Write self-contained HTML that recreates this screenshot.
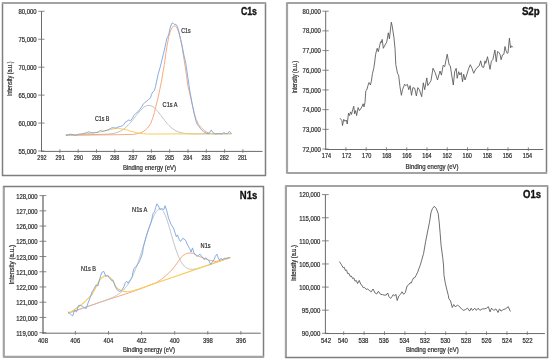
<!DOCTYPE html>
<html><head><meta charset="utf-8"><style>
html,body{margin:0;padding:0;background:#fff;width:550px;height:360px;overflow:hidden}
svg{display:block}
text{font-family:"Liberation Sans",sans-serif}
</style></head><body>
<svg width="550" height="360" viewBox="0 0 550 360">
<defs><filter id="bl" filterUnits="userSpaceOnUse" x="0" y="0" width="550" height="360"><feOffset dx="0" dy="0"/></filter></defs>
<rect width="550" height="360" fill="#fff"/>
<g filter="url(#bl)">
<line x1="2.5" y1="2.5" x2="2.5" y2="176.0" stroke="#7e7e7e" stroke-width="1.5"/>
<line x1="265.5" y1="2.5" x2="265.5" y2="176.0" stroke="#7e7e7e" stroke-width="1.5"/>
<line x1="2.0" y1="3.0" x2="266.0" y2="3.0" stroke="#a3a3a3" stroke-width="2.2"/>
<line x1="2.0" y1="175.5" x2="266.0" y2="175.5" stroke="#7e7e7e" stroke-width="1.5"/>
<line x1="41.5" y1="11.3" x2="41.5" y2="151.9" stroke="#6b6b6b" stroke-width="1.0"/>
<line x1="41.0" y1="151.4" x2="262.5" y2="151.4" stroke="#6b6b6b" stroke-width="1.0"/>
<line x1="38.2" y1="11.3" x2="44.5" y2="11.3" stroke="#6b6b6b" stroke-width="0.8"/>
<text x="36.6" y="13.9" font-size="6.4" text-anchor="end" font-weight="normal" fill="#2a2a2a" stroke="#2a2a2a" stroke-width="0.2" textLength="18.2" lengthAdjust="spacingAndGlyphs">80,000</text>
<line x1="38.2" y1="39.24" x2="44.5" y2="39.24" stroke="#6b6b6b" stroke-width="0.8"/>
<text x="36.6" y="41.84" font-size="6.4" text-anchor="end" font-weight="normal" fill="#2a2a2a" stroke="#2a2a2a" stroke-width="0.2" textLength="18.2" lengthAdjust="spacingAndGlyphs">75,000</text>
<line x1="38.2" y1="67.18" x2="44.5" y2="67.18" stroke="#6b6b6b" stroke-width="0.8"/>
<text x="36.6" y="69.78" font-size="6.4" text-anchor="end" font-weight="normal" fill="#2a2a2a" stroke="#2a2a2a" stroke-width="0.2" textLength="18.2" lengthAdjust="spacingAndGlyphs">70,000</text>
<line x1="38.2" y1="95.12" x2="44.5" y2="95.12" stroke="#6b6b6b" stroke-width="0.8"/>
<text x="36.6" y="97.72" font-size="6.4" text-anchor="end" font-weight="normal" fill="#2a2a2a" stroke="#2a2a2a" stroke-width="0.2" textLength="18.2" lengthAdjust="spacingAndGlyphs">65,000</text>
<line x1="38.2" y1="123.06" x2="44.5" y2="123.06" stroke="#6b6b6b" stroke-width="0.8"/>
<text x="36.6" y="125.66" font-size="6.4" text-anchor="end" font-weight="normal" fill="#2a2a2a" stroke="#2a2a2a" stroke-width="0.2" textLength="18.2" lengthAdjust="spacingAndGlyphs">60,000</text>
<line x1="38.2" y1="151.00000000000003" x2="44.5" y2="151.00000000000003" stroke="#6b6b6b" stroke-width="0.8"/>
<text x="36.6" y="153.60000000000002" font-size="6.4" text-anchor="end" font-weight="normal" fill="#2a2a2a" stroke="#2a2a2a" stroke-width="0.2" textLength="18.2" lengthAdjust="spacingAndGlyphs">55,000</text>
<text x="41.9" y="160.3" font-size="6.4" text-anchor="middle" font-weight="normal" fill="#2a2a2a" stroke="#2a2a2a" stroke-width="0.2" textLength="9.1" lengthAdjust="spacingAndGlyphs">292</text>
<line x1="59.900000000000006" y1="149.20000000000002" x2="59.900000000000006" y2="152.8" stroke="#6b6b6b" stroke-width="0.8"/>
<text x="60.14" y="160.3" font-size="6.4" text-anchor="middle" font-weight="normal" fill="#2a2a2a" stroke="#2a2a2a" stroke-width="0.2" textLength="9.1" lengthAdjust="spacingAndGlyphs">291</text>
<line x1="78.2" y1="149.20000000000002" x2="78.2" y2="152.8" stroke="#6b6b6b" stroke-width="0.8"/>
<text x="78.38" y="160.3" font-size="6.4" text-anchor="middle" font-weight="normal" fill="#2a2a2a" stroke="#2a2a2a" stroke-width="0.2" textLength="9.1" lengthAdjust="spacingAndGlyphs">290</text>
<line x1="96.5" y1="149.20000000000002" x2="96.5" y2="152.8" stroke="#6b6b6b" stroke-width="0.8"/>
<text x="96.62" y="160.3" font-size="6.4" text-anchor="middle" font-weight="normal" fill="#2a2a2a" stroke="#2a2a2a" stroke-width="0.2" textLength="9.1" lengthAdjust="spacingAndGlyphs">289</text>
<line x1="114.80000000000001" y1="149.20000000000002" x2="114.80000000000001" y2="152.8" stroke="#6b6b6b" stroke-width="0.8"/>
<text x="114.85999999999999" y="160.3" font-size="6.4" text-anchor="middle" font-weight="normal" fill="#2a2a2a" stroke="#2a2a2a" stroke-width="0.2" textLength="9.1" lengthAdjust="spacingAndGlyphs">288</text>
<line x1="133.1" y1="149.20000000000002" x2="133.1" y2="152.8" stroke="#6b6b6b" stroke-width="0.8"/>
<text x="133.1" y="160.3" font-size="6.4" text-anchor="middle" font-weight="normal" fill="#2a2a2a" stroke="#2a2a2a" stroke-width="0.2" textLength="9.1" lengthAdjust="spacingAndGlyphs">287</text>
<line x1="151.4" y1="149.20000000000002" x2="151.4" y2="152.8" stroke="#6b6b6b" stroke-width="0.8"/>
<text x="151.34" y="160.3" font-size="6.4" text-anchor="middle" font-weight="normal" fill="#2a2a2a" stroke="#2a2a2a" stroke-width="0.2" textLength="9.1" lengthAdjust="spacingAndGlyphs">286</text>
<line x1="169.7" y1="149.20000000000002" x2="169.7" y2="152.8" stroke="#6b6b6b" stroke-width="0.8"/>
<text x="169.57999999999998" y="160.3" font-size="6.4" text-anchor="middle" font-weight="normal" fill="#2a2a2a" stroke="#2a2a2a" stroke-width="0.2" textLength="9.1" lengthAdjust="spacingAndGlyphs">285</text>
<line x1="188.0" y1="149.20000000000002" x2="188.0" y2="152.8" stroke="#6b6b6b" stroke-width="0.8"/>
<text x="187.82" y="160.3" font-size="6.4" text-anchor="middle" font-weight="normal" fill="#2a2a2a" stroke="#2a2a2a" stroke-width="0.2" textLength="9.1" lengthAdjust="spacingAndGlyphs">284</text>
<line x1="206.3" y1="149.20000000000002" x2="206.3" y2="152.8" stroke="#6b6b6b" stroke-width="0.8"/>
<text x="206.06" y="160.3" font-size="6.4" text-anchor="middle" font-weight="normal" fill="#2a2a2a" stroke="#2a2a2a" stroke-width="0.2" textLength="9.1" lengthAdjust="spacingAndGlyphs">283</text>
<line x1="224.6" y1="149.20000000000002" x2="224.6" y2="152.8" stroke="#6b6b6b" stroke-width="0.8"/>
<text x="224.29999999999998" y="160.3" font-size="6.4" text-anchor="middle" font-weight="normal" fill="#2a2a2a" stroke="#2a2a2a" stroke-width="0.2" textLength="9.1" lengthAdjust="spacingAndGlyphs">282</text>
<line x1="242.9" y1="149.20000000000002" x2="242.9" y2="152.8" stroke="#6b6b6b" stroke-width="0.8"/>
<text x="242.54" y="160.3" font-size="6.4" text-anchor="middle" font-weight="normal" fill="#2a2a2a" stroke="#2a2a2a" stroke-width="0.2" textLength="9.1" lengthAdjust="spacingAndGlyphs">281</text>
<text x="149.5" y="169.8" font-size="6.4" text-anchor="middle" font-weight="normal" fill="#2a2a2a" stroke="#2a2a2a" stroke-width="0.2" textLength="53.19999999999999" lengthAdjust="spacingAndGlyphs">Binding energy (eV)</text>
<text x="12.0" y="78.9" font-size="6.4" text-anchor="middle" font-weight="normal" fill="#2a2a2a" stroke="#2a2a2a" stroke-width="0.2" textLength="34.8" lengthAdjust="spacingAndGlyphs" transform="rotate(-90 12.0 78.9)">Intensity (a.u.)</text>
<text x="240.9" y="15.3" font-size="10.5" text-anchor="start" font-weight="bold" fill="#111" stroke="#111" stroke-width="0.35" textLength="16.099999999999994" lengthAdjust="spacingAndGlyphs">C1s</text>
<line x1="287.0" y1="2.5" x2="287.0" y2="173.5" stroke="#a3a3a3" stroke-width="2.2"/>
<line x1="546.5" y1="2.5" x2="546.5" y2="173.5" stroke="#7e7e7e" stroke-width="1.5"/>
<line x1="286.5" y1="3.0" x2="547.0" y2="3.0" stroke="#a3a3a3" stroke-width="2.2"/>
<line x1="286.5" y1="173.0" x2="547.0" y2="173.0" stroke="#a3a3a3" stroke-width="2.2"/>
<line x1="325.7" y1="11.2" x2="325.7" y2="150.0" stroke="#6b6b6b" stroke-width="1.0"/>
<line x1="325.2" y1="149.5" x2="543.3" y2="149.5" stroke="#6b6b6b" stroke-width="1.0"/>
<line x1="322.4" y1="11.2" x2="328.7" y2="11.2" stroke="#6b6b6b" stroke-width="0.8"/>
<text x="320.8" y="13.799999999999999" font-size="6.4" text-anchor="end" font-weight="normal" fill="#2a2a2a" stroke="#2a2a2a" stroke-width="0.2" textLength="18.2" lengthAdjust="spacingAndGlyphs">80,000</text>
<line x1="322.4" y1="30.89" x2="328.7" y2="30.89" stroke="#6b6b6b" stroke-width="0.8"/>
<text x="320.8" y="33.49" font-size="6.4" text-anchor="end" font-weight="normal" fill="#2a2a2a" stroke="#2a2a2a" stroke-width="0.2" textLength="18.2" lengthAdjust="spacingAndGlyphs">78,000</text>
<line x1="322.4" y1="50.58" x2="328.7" y2="50.58" stroke="#6b6b6b" stroke-width="0.8"/>
<text x="320.8" y="53.18" font-size="6.4" text-anchor="end" font-weight="normal" fill="#2a2a2a" stroke="#2a2a2a" stroke-width="0.2" textLength="18.2" lengthAdjust="spacingAndGlyphs">77,000</text>
<line x1="322.4" y1="70.27000000000001" x2="328.7" y2="70.27000000000001" stroke="#6b6b6b" stroke-width="0.8"/>
<text x="320.8" y="72.87" font-size="6.4" text-anchor="end" font-weight="normal" fill="#2a2a2a" stroke="#2a2a2a" stroke-width="0.2" textLength="18.2" lengthAdjust="spacingAndGlyphs">76,000</text>
<line x1="322.4" y1="89.96000000000001" x2="328.7" y2="89.96000000000001" stroke="#6b6b6b" stroke-width="0.8"/>
<text x="320.8" y="92.56" font-size="6.4" text-anchor="end" font-weight="normal" fill="#2a2a2a" stroke="#2a2a2a" stroke-width="0.2" textLength="18.2" lengthAdjust="spacingAndGlyphs">75,000</text>
<line x1="322.4" y1="109.65" x2="328.7" y2="109.65" stroke="#6b6b6b" stroke-width="0.8"/>
<text x="320.8" y="112.25" font-size="6.4" text-anchor="end" font-weight="normal" fill="#2a2a2a" stroke="#2a2a2a" stroke-width="0.2" textLength="18.2" lengthAdjust="spacingAndGlyphs">74,000</text>
<line x1="322.4" y1="129.34" x2="328.7" y2="129.34" stroke="#6b6b6b" stroke-width="0.8"/>
<text x="320.8" y="131.94" font-size="6.4" text-anchor="end" font-weight="normal" fill="#2a2a2a" stroke="#2a2a2a" stroke-width="0.2" textLength="18.2" lengthAdjust="spacingAndGlyphs">73,000</text>
<line x1="322.4" y1="149.03" x2="328.7" y2="149.03" stroke="#6b6b6b" stroke-width="0.8"/>
<text x="320.8" y="151.63" font-size="6.4" text-anchor="end" font-weight="normal" fill="#2a2a2a" stroke="#2a2a2a" stroke-width="0.2" textLength="18.2" lengthAdjust="spacingAndGlyphs">72,000</text>
<text x="326.5" y="158.4" font-size="6.4" text-anchor="middle" font-weight="normal" fill="#2a2a2a" stroke="#2a2a2a" stroke-width="0.2" textLength="9.3" lengthAdjust="spacingAndGlyphs">174</text>
<line x1="345.9" y1="147.3" x2="345.9" y2="150.9" stroke="#6b6b6b" stroke-width="0.8"/>
<text x="346.6" y="158.4" font-size="6.4" text-anchor="middle" font-weight="normal" fill="#2a2a2a" stroke="#2a2a2a" stroke-width="0.2" textLength="9.3" lengthAdjust="spacingAndGlyphs">172</text>
<line x1="366.17" y1="147.3" x2="366.17" y2="150.9" stroke="#6b6b6b" stroke-width="0.8"/>
<text x="366.7" y="158.4" font-size="6.4" text-anchor="middle" font-weight="normal" fill="#2a2a2a" stroke="#2a2a2a" stroke-width="0.2" textLength="9.3" lengthAdjust="spacingAndGlyphs">170</text>
<line x1="386.44" y1="147.3" x2="386.44" y2="150.9" stroke="#6b6b6b" stroke-width="0.8"/>
<text x="386.8" y="158.4" font-size="6.4" text-anchor="middle" font-weight="normal" fill="#2a2a2a" stroke="#2a2a2a" stroke-width="0.2" textLength="9.3" lengthAdjust="spacingAndGlyphs">168</text>
<line x1="406.71" y1="147.3" x2="406.71" y2="150.9" stroke="#6b6b6b" stroke-width="0.8"/>
<text x="406.9" y="158.4" font-size="6.4" text-anchor="middle" font-weight="normal" fill="#2a2a2a" stroke="#2a2a2a" stroke-width="0.2" textLength="9.3" lengthAdjust="spacingAndGlyphs">166</text>
<line x1="426.98" y1="147.3" x2="426.98" y2="150.9" stroke="#6b6b6b" stroke-width="0.8"/>
<text x="427.0" y="158.4" font-size="6.4" text-anchor="middle" font-weight="normal" fill="#2a2a2a" stroke="#2a2a2a" stroke-width="0.2" textLength="9.3" lengthAdjust="spacingAndGlyphs">164</text>
<line x1="447.25" y1="147.3" x2="447.25" y2="150.9" stroke="#6b6b6b" stroke-width="0.8"/>
<text x="447.1" y="158.4" font-size="6.4" text-anchor="middle" font-weight="normal" fill="#2a2a2a" stroke="#2a2a2a" stroke-width="0.2" textLength="9.3" lengthAdjust="spacingAndGlyphs">162</text>
<line x1="467.52" y1="147.3" x2="467.52" y2="150.9" stroke="#6b6b6b" stroke-width="0.8"/>
<text x="467.20000000000005" y="158.4" font-size="6.4" text-anchor="middle" font-weight="normal" fill="#2a2a2a" stroke="#2a2a2a" stroke-width="0.2" textLength="9.3" lengthAdjust="spacingAndGlyphs">160</text>
<line x1="487.78999999999996" y1="147.3" x2="487.78999999999996" y2="150.9" stroke="#6b6b6b" stroke-width="0.8"/>
<text x="487.3" y="158.4" font-size="6.4" text-anchor="middle" font-weight="normal" fill="#2a2a2a" stroke="#2a2a2a" stroke-width="0.2" textLength="9.3" lengthAdjust="spacingAndGlyphs">158</text>
<line x1="508.06" y1="147.3" x2="508.06" y2="150.9" stroke="#6b6b6b" stroke-width="0.8"/>
<text x="507.4" y="158.4" font-size="6.4" text-anchor="middle" font-weight="normal" fill="#2a2a2a" stroke="#2a2a2a" stroke-width="0.2" textLength="9.3" lengthAdjust="spacingAndGlyphs">156</text>
<line x1="528.3299999999999" y1="147.3" x2="528.3299999999999" y2="150.9" stroke="#6b6b6b" stroke-width="0.8"/>
<text x="527.5" y="158.4" font-size="6.4" text-anchor="middle" font-weight="normal" fill="#2a2a2a" stroke="#2a2a2a" stroke-width="0.2" textLength="9.3" lengthAdjust="spacingAndGlyphs">154</text>
<text x="432.1" y="168.5" font-size="6.4" text-anchor="middle" font-weight="normal" fill="#2a2a2a" stroke="#2a2a2a" stroke-width="0.2" textLength="53.0" lengthAdjust="spacingAndGlyphs">Binding energy (eV)</text>
<text x="297.0" y="77.25" font-size="6.4" text-anchor="middle" font-weight="normal" fill="#2a2a2a" stroke="#2a2a2a" stroke-width="0.2" textLength="32.5" lengthAdjust="spacingAndGlyphs" transform="rotate(-90 297.0 77.25)">Intensity (a.u.)</text>
<text x="521.9" y="14.9" font-size="10.5" text-anchor="start" font-weight="bold" fill="#111" stroke="#111" stroke-width="0.35" textLength="17.800000000000068" lengthAdjust="spacingAndGlyphs">S2p</text>
<line x1="3.8" y1="186.0" x2="3.8" y2="357.4" stroke="#a3a3a3" stroke-width="2.2"/>
<line x1="263.5" y1="186.0" x2="263.5" y2="357.4" stroke="#7e7e7e" stroke-width="1.5"/>
<line x1="3.3" y1="186.5" x2="264.0" y2="186.5" stroke="#7e7e7e" stroke-width="1.5"/>
<line x1="3.3" y1="356.9" x2="264.0" y2="356.9" stroke="#a3a3a3" stroke-width="2.2"/>
<line x1="43.0" y1="195.6" x2="43.0" y2="333.7" stroke="#6b6b6b" stroke-width="1.3"/>
<line x1="42.5" y1="333.2" x2="260.8" y2="333.2" stroke="#6b6b6b" stroke-width="1.0"/>
<line x1="39.5" y1="195.6" x2="46.3" y2="195.6" stroke="#6b6b6b" stroke-width="0.8"/>
<text x="37.6" y="198.79999999999998" font-size="6.8" text-anchor="end" font-weight="normal" fill="#2a2a2a" stroke="#2a2a2a" stroke-width="0.2" textLength="21.4" lengthAdjust="spacingAndGlyphs">128,000</text>
<line x1="39.5" y1="210.82999999999998" x2="46.3" y2="210.82999999999998" stroke="#6b6b6b" stroke-width="0.8"/>
<text x="37.6" y="214.02999999999997" font-size="6.8" text-anchor="end" font-weight="normal" fill="#2a2a2a" stroke="#2a2a2a" stroke-width="0.2" textLength="21.4" lengthAdjust="spacingAndGlyphs">127,000</text>
<line x1="39.5" y1="226.06" x2="46.3" y2="226.06" stroke="#6b6b6b" stroke-width="0.8"/>
<text x="37.6" y="229.26" font-size="6.8" text-anchor="end" font-weight="normal" fill="#2a2a2a" stroke="#2a2a2a" stroke-width="0.2" textLength="21.4" lengthAdjust="spacingAndGlyphs">126,000</text>
<line x1="39.5" y1="241.29" x2="46.3" y2="241.29" stroke="#6b6b6b" stroke-width="0.8"/>
<text x="37.6" y="244.48999999999998" font-size="6.8" text-anchor="end" font-weight="normal" fill="#2a2a2a" stroke="#2a2a2a" stroke-width="0.2" textLength="21.4" lengthAdjust="spacingAndGlyphs">125,000</text>
<line x1="39.5" y1="256.52" x2="46.3" y2="256.52" stroke="#6b6b6b" stroke-width="0.8"/>
<text x="37.6" y="259.71999999999997" font-size="6.8" text-anchor="end" font-weight="normal" fill="#2a2a2a" stroke="#2a2a2a" stroke-width="0.2" textLength="21.4" lengthAdjust="spacingAndGlyphs">123,000</text>
<line x1="39.5" y1="271.75" x2="46.3" y2="271.75" stroke="#6b6b6b" stroke-width="0.8"/>
<text x="37.6" y="274.95" font-size="6.8" text-anchor="end" font-weight="normal" fill="#2a2a2a" stroke="#2a2a2a" stroke-width="0.2" textLength="21.4" lengthAdjust="spacingAndGlyphs">121,000</text>
<line x1="39.5" y1="286.98" x2="46.3" y2="286.98" stroke="#6b6b6b" stroke-width="0.8"/>
<text x="37.6" y="290.18" font-size="6.8" text-anchor="end" font-weight="normal" fill="#2a2a2a" stroke="#2a2a2a" stroke-width="0.2" textLength="21.4" lengthAdjust="spacingAndGlyphs">122,000</text>
<line x1="39.5" y1="302.21" x2="46.3" y2="302.21" stroke="#6b6b6b" stroke-width="0.8"/>
<text x="37.6" y="305.40999999999997" font-size="6.8" text-anchor="end" font-weight="normal" fill="#2a2a2a" stroke="#2a2a2a" stroke-width="0.2" textLength="21.4" lengthAdjust="spacingAndGlyphs">121,000</text>
<line x1="39.5" y1="317.44" x2="46.3" y2="317.44" stroke="#6b6b6b" stroke-width="0.8"/>
<text x="37.6" y="320.64" font-size="6.8" text-anchor="end" font-weight="normal" fill="#2a2a2a" stroke="#2a2a2a" stroke-width="0.2" textLength="21.4" lengthAdjust="spacingAndGlyphs">120,000</text>
<line x1="39.5" y1="332.66999999999996" x2="46.3" y2="332.66999999999996" stroke="#6b6b6b" stroke-width="0.8"/>
<text x="37.6" y="335.86999999999995" font-size="6.8" text-anchor="end" font-weight="normal" fill="#2a2a2a" stroke="#2a2a2a" stroke-width="0.2" textLength="21.4" lengthAdjust="spacingAndGlyphs">119,000</text>
<text x="43.0" y="343.0" font-size="6.8" text-anchor="middle" font-weight="normal" fill="#2a2a2a" stroke="#2a2a2a" stroke-width="0.2" textLength="9.8" lengthAdjust="spacingAndGlyphs">408</text>
<line x1="75.4" y1="331.0" x2="75.4" y2="334.59999999999997" stroke="#6b6b6b" stroke-width="0.8"/>
<text x="75.25" y="343.0" font-size="6.8" text-anchor="middle" font-weight="normal" fill="#2a2a2a" stroke="#2a2a2a" stroke-width="0.2" textLength="9.8" lengthAdjust="spacingAndGlyphs">406</text>
<line x1="108.5" y1="331.0" x2="108.5" y2="334.59999999999997" stroke="#6b6b6b" stroke-width="0.8"/>
<text x="108.4" y="343.0" font-size="6.8" text-anchor="middle" font-weight="normal" fill="#2a2a2a" stroke="#2a2a2a" stroke-width="0.2" textLength="9.8" lengthAdjust="spacingAndGlyphs">404</text>
<line x1="141.60000000000002" y1="331.0" x2="141.60000000000002" y2="334.59999999999997" stroke="#6b6b6b" stroke-width="0.8"/>
<text x="141.54999999999998" y="343.0" font-size="6.8" text-anchor="middle" font-weight="normal" fill="#2a2a2a" stroke="#2a2a2a" stroke-width="0.2" textLength="9.8" lengthAdjust="spacingAndGlyphs">402</text>
<line x1="174.7" y1="331.0" x2="174.7" y2="334.59999999999997" stroke="#6b6b6b" stroke-width="0.8"/>
<text x="174.7" y="343.0" font-size="6.8" text-anchor="middle" font-weight="normal" fill="#2a2a2a" stroke="#2a2a2a" stroke-width="0.2" textLength="9.8" lengthAdjust="spacingAndGlyphs">400</text>
<line x1="207.8" y1="331.0" x2="207.8" y2="334.59999999999997" stroke="#6b6b6b" stroke-width="0.8"/>
<text x="207.85" y="343.0" font-size="6.8" text-anchor="middle" font-weight="normal" fill="#2a2a2a" stroke="#2a2a2a" stroke-width="0.2" textLength="9.8" lengthAdjust="spacingAndGlyphs">398</text>
<line x1="240.90000000000003" y1="331.0" x2="240.90000000000003" y2="334.59999999999997" stroke="#6b6b6b" stroke-width="0.8"/>
<text x="240.99999999999997" y="343.0" font-size="6.8" text-anchor="middle" font-weight="normal" fill="#2a2a2a" stroke="#2a2a2a" stroke-width="0.2" textLength="9.8" lengthAdjust="spacingAndGlyphs">396</text>
<text x="148.9" y="352.0" font-size="6.8" text-anchor="middle" font-weight="normal" fill="#2a2a2a" stroke="#2a2a2a" stroke-width="0.2" textLength="52.0" lengthAdjust="spacingAndGlyphs">Binding energy (eV)</text>
<text x="14.0" y="264.75" font-size="6.8" text-anchor="middle" font-weight="normal" fill="#2a2a2a" stroke="#2a2a2a" stroke-width="0.2" textLength="39.70000000000002" lengthAdjust="spacingAndGlyphs" transform="rotate(-90 14.0 264.75)">Intensity (a.u.)</text>
<text x="239.8" y="198.6" font-size="10.5" text-anchor="start" font-weight="bold" fill="#111" stroke="#111" stroke-width="0.35" textLength="17.5" lengthAdjust="spacingAndGlyphs">N1s</text>
<line x1="285.9" y1="185.5" x2="285.9" y2="358.0" stroke="#a3a3a3" stroke-width="2.2"/>
<line x1="547.6" y1="185.5" x2="547.6" y2="358.0" stroke="#7e7e7e" stroke-width="1.5"/>
<line x1="285.4" y1="186.0" x2="548.1" y2="186.0" stroke="#a3a3a3" stroke-width="2.2"/>
<line x1="285.4" y1="357.5" x2="548.1" y2="357.5" stroke="#7e7e7e" stroke-width="1.5"/>
<line x1="325.4" y1="194.6" x2="325.4" y2="334.05" stroke="#6b6b6b" stroke-width="1.0"/>
<line x1="324.9" y1="333.55" x2="544.9" y2="333.55" stroke="#6b6b6b" stroke-width="1.0"/>
<line x1="322.0" y1="194.6" x2="328.7" y2="194.6" stroke="#6b6b6b" stroke-width="0.8"/>
<text x="320.3" y="197.4" font-size="6.4" text-anchor="end" font-weight="normal" fill="#2a2a2a" stroke="#2a2a2a" stroke-width="0.2" textLength="21.0" lengthAdjust="spacingAndGlyphs">120,000</text>
<line x1="322.0" y1="217.72" x2="328.7" y2="217.72" stroke="#6b6b6b" stroke-width="0.8"/>
<text x="320.3" y="220.52" font-size="6.4" text-anchor="end" font-weight="normal" fill="#2a2a2a" stroke="#2a2a2a" stroke-width="0.2" textLength="21.0" lengthAdjust="spacingAndGlyphs">115,000</text>
<line x1="322.0" y1="240.84" x2="328.7" y2="240.84" stroke="#6b6b6b" stroke-width="0.8"/>
<text x="320.3" y="243.64000000000001" font-size="6.4" text-anchor="end" font-weight="normal" fill="#2a2a2a" stroke="#2a2a2a" stroke-width="0.2" textLength="21.0" lengthAdjust="spacingAndGlyphs">110,000</text>
<line x1="322.0" y1="263.96" x2="328.7" y2="263.96" stroke="#6b6b6b" stroke-width="0.8"/>
<text x="320.3" y="266.76" font-size="6.4" text-anchor="end" font-weight="normal" fill="#2a2a2a" stroke="#2a2a2a" stroke-width="0.2" textLength="21.0" lengthAdjust="spacingAndGlyphs">105,000</text>
<line x1="322.0" y1="287.08" x2="328.7" y2="287.08" stroke="#6b6b6b" stroke-width="0.8"/>
<text x="320.3" y="289.88" font-size="6.4" text-anchor="end" font-weight="normal" fill="#2a2a2a" stroke="#2a2a2a" stroke-width="0.2" textLength="21.0" lengthAdjust="spacingAndGlyphs">100,000</text>
<line x1="322.0" y1="310.2" x2="328.7" y2="310.2" stroke="#6b6b6b" stroke-width="0.8"/>
<text x="320.3" y="313.0" font-size="6.4" text-anchor="end" font-weight="normal" fill="#2a2a2a" stroke="#2a2a2a" stroke-width="0.2" textLength="18.5" lengthAdjust="spacingAndGlyphs">95,000</text>
<line x1="322.0" y1="333.32" x2="328.7" y2="333.32" stroke="#6b6b6b" stroke-width="0.8"/>
<text x="320.3" y="336.12" font-size="6.4" text-anchor="end" font-weight="normal" fill="#2a2a2a" stroke="#2a2a2a" stroke-width="0.2" textLength="18.5" lengthAdjust="spacingAndGlyphs">90,000</text>
<text x="326.0" y="343.15000000000003" font-size="6.4" text-anchor="middle" font-weight="normal" fill="#2a2a2a" stroke="#2a2a2a" stroke-width="0.2" textLength="10.0" lengthAdjust="spacingAndGlyphs">542</text>
<line x1="343.7" y1="331.35" x2="343.7" y2="334.95" stroke="#6b6b6b" stroke-width="0.8"/>
<text x="342.90999999999997" y="343.15000000000003" font-size="6.4" text-anchor="middle" font-weight="normal" fill="#2a2a2a" stroke="#2a2a2a" stroke-width="0.2" textLength="10.0" lengthAdjust="spacingAndGlyphs">540</text>
<line x1="364.1" y1="331.35" x2="364.1" y2="334.95" stroke="#6b6b6b" stroke-width="0.8"/>
<text x="363.41999999999996" y="343.15000000000003" font-size="6.4" text-anchor="middle" font-weight="normal" fill="#2a2a2a" stroke="#2a2a2a" stroke-width="0.2" textLength="10.0" lengthAdjust="spacingAndGlyphs">538</text>
<line x1="384.5" y1="331.35" x2="384.5" y2="334.95" stroke="#6b6b6b" stroke-width="0.8"/>
<text x="383.92999999999995" y="343.15000000000003" font-size="6.4" text-anchor="middle" font-weight="normal" fill="#2a2a2a" stroke="#2a2a2a" stroke-width="0.2" textLength="10.0" lengthAdjust="spacingAndGlyphs">536</text>
<line x1="404.9" y1="331.35" x2="404.9" y2="334.95" stroke="#6b6b6b" stroke-width="0.8"/>
<text x="404.44" y="343.15000000000003" font-size="6.4" text-anchor="middle" font-weight="normal" fill="#2a2a2a" stroke="#2a2a2a" stroke-width="0.2" textLength="10.0" lengthAdjust="spacingAndGlyphs">534</text>
<line x1="425.3" y1="331.35" x2="425.3" y2="334.95" stroke="#6b6b6b" stroke-width="0.8"/>
<text x="424.95" y="343.15000000000003" font-size="6.4" text-anchor="middle" font-weight="normal" fill="#2a2a2a" stroke="#2a2a2a" stroke-width="0.2" textLength="10.0" lengthAdjust="spacingAndGlyphs">532</text>
<line x1="445.7" y1="331.35" x2="445.7" y2="334.95" stroke="#6b6b6b" stroke-width="0.8"/>
<text x="445.46" y="343.15000000000003" font-size="6.4" text-anchor="middle" font-weight="normal" fill="#2a2a2a" stroke="#2a2a2a" stroke-width="0.2" textLength="10.0" lengthAdjust="spacingAndGlyphs">530</text>
<line x1="466.1" y1="331.35" x2="466.1" y2="334.95" stroke="#6b6b6b" stroke-width="0.8"/>
<text x="465.97" y="343.15000000000003" font-size="6.4" text-anchor="middle" font-weight="normal" fill="#2a2a2a" stroke="#2a2a2a" stroke-width="0.2" textLength="10.0" lengthAdjust="spacingAndGlyphs">528</text>
<line x1="486.5" y1="331.35" x2="486.5" y2="334.95" stroke="#6b6b6b" stroke-width="0.8"/>
<text x="486.48" y="343.15000000000003" font-size="6.4" text-anchor="middle" font-weight="normal" fill="#2a2a2a" stroke="#2a2a2a" stroke-width="0.2" textLength="10.0" lengthAdjust="spacingAndGlyphs">526</text>
<line x1="506.9" y1="331.35" x2="506.9" y2="334.95" stroke="#6b6b6b" stroke-width="0.8"/>
<text x="506.99" y="343.15000000000003" font-size="6.4" text-anchor="middle" font-weight="normal" fill="#2a2a2a" stroke="#2a2a2a" stroke-width="0.2" textLength="10.0" lengthAdjust="spacingAndGlyphs">524</text>
<line x1="527.3" y1="331.35" x2="527.3" y2="334.95" stroke="#6b6b6b" stroke-width="0.8"/>
<text x="527.5" y="343.15000000000003" font-size="6.4" text-anchor="middle" font-weight="normal" fill="#2a2a2a" stroke="#2a2a2a" stroke-width="0.2" textLength="10.0" lengthAdjust="spacingAndGlyphs">522</text>
<text x="432.29999999999995" y="352.4" font-size="6.4" text-anchor="middle" font-weight="normal" fill="#2a2a2a" stroke="#2a2a2a" stroke-width="0.2" textLength="52.80000000000001" lengthAdjust="spacingAndGlyphs">Binding energy (eV)</text>
<text x="295.5" y="263.0" font-size="6.4" text-anchor="middle" font-weight="normal" fill="#2a2a2a" stroke="#2a2a2a" stroke-width="0.2" textLength="36.0" lengthAdjust="spacingAndGlyphs" transform="rotate(-90 295.5 263.0)">Intensity (a.u.)</text>
<text x="523.1" y="198.2" font-size="10.5" text-anchor="start" font-weight="bold" fill="#111" stroke="#111" stroke-width="0.35" textLength="18.0" lengthAdjust="spacingAndGlyphs">O1s</text>
<polyline points="66.00,134.60 67.00,134.60 68.00,134.59 69.00,134.59 70.00,134.58 71.00,134.58 72.00,134.57 73.00,134.57 74.00,134.56 75.00,134.56 76.00,134.55 77.00,134.55 78.00,134.54 79.00,134.54 80.00,134.53 81.00,134.53 82.00,134.52 83.00,134.52 84.00,134.51 85.00,134.51 86.00,134.50 87.00,134.50 88.00,134.49 89.00,134.49 90.00,134.48 91.00,134.48 92.00,134.47 93.00,134.46 94.00,134.46 95.00,134.45 96.00,134.44 97.00,134.43 98.00,134.42 99.00,134.40 100.00,134.39 101.00,134.37 102.00,134.35 103.00,134.32 104.00,134.29 105.00,134.25 106.00,134.20 107.00,134.15 108.00,134.08 109.00,133.99 110.00,133.89 111.00,133.78 112.00,133.64 113.00,133.47 114.00,133.28 115.00,133.05 116.00,132.79 117.00,132.48 118.00,132.13 119.00,131.73 120.00,131.28 121.00,130.77 122.00,130.20 123.00,129.56 124.00,128.86 125.00,128.09 126.00,127.24 127.00,126.33 128.00,125.36 129.00,124.31 130.00,123.21 131.00,122.06 132.00,120.85 133.00,119.61 134.00,118.34 135.00,117.05 136.00,115.77 137.00,114.49 138.00,113.24 139.00,112.03 140.00,110.88 141.00,109.80 142.00,108.82 143.00,107.93 144.00,107.16 145.00,106.52 146.00,106.02 147.00,105.66 148.00,105.45 149.00,105.40 150.00,105.52 151.00,105.80 152.00,106.24 153.00,106.84 154.00,107.59 155.00,108.46 156.00,109.46 157.00,110.55 158.00,111.73 159.00,112.98 160.00,114.27 161.00,115.60 162.00,116.94 163.00,118.27 164.00,119.59 165.00,120.87 166.00,122.11 167.00,123.30 168.00,124.43 169.00,125.49 170.00,126.48 171.00,127.39 172.00,128.23 173.00,128.99 174.00,129.68 175.00,130.29 176.00,130.84 177.00,131.32 178.00,131.75 179.00,132.11 180.00,132.43 181.00,132.70 182.00,132.93 183.00,133.13 184.00,133.29 185.00,133.43 186.00,133.54 187.00,133.63 188.00,133.70 189.00,133.76 190.00,133.81 191.00,133.85 192.00,133.87 193.00,133.90 194.00,133.91 195.00,133.92 196.00,133.93 197.00,133.94 198.00,133.94 199.00,133.94 200.00,133.94 201.00,133.94 202.00,133.93 203.00,133.93 204.00,133.93 205.00,133.92 206.00,133.92 207.00,133.92 208.00,133.91 209.00,133.91 210.00,133.90 211.00,133.90 212.00,133.89 213.00,133.89 214.00,133.88 215.00,133.88 216.00,133.87 217.00,133.87 218.00,133.86 219.00,133.86 220.00,133.85 221.00,133.85 222.00,133.84 223.00,133.84 224.00,133.83 225.00,133.83 226.00,133.82 227.00,133.82 228.00,133.81 229.00,133.81 230.00,133.80 231.00,133.80" fill="none" stroke="#bdbdbd" stroke-width="0.9" stroke-linejoin="round" stroke-linecap="round" opacity="1"/>
<polyline points="66.30,135.50 100.00,134.90 115.00,134.75 133.75,134.40 140.00,133.10 143.75,131.25 147.50,128.10 150.60,123.75 152.50,118.75 154.40,112.50 156.25,105.00 158.10,97.50 160.00,88.50 161.70,80.00 163.00,72.00 164.40,64.50 165.60,55.00 167.20,45.00 168.90,36.10 170.60,30.60 172.20,27.20 173.90,25.90 175.60,26.10 177.20,28.30 178.90,32.80 180.60,39.40 182.20,47.20 183.30,55.00 184.30,61.00 186.50,75.40 187.90,85.80 189.60,93.00 191.25,100.00 192.80,107.00 194.50,114.00 196.25,119.50 198.50,124.50 201.25,127.50 203.70,130.00 206.25,131.90 210.00,133.50 215.00,133.80 231.00,133.60" fill="none" stroke="#f4a272" stroke-width="0.9" stroke-linejoin="round" stroke-linecap="round" opacity="1"/>
<polyline points="66.30,135.40 72.00,135.00 79.50,134.40 87.70,133.60 95.90,132.70 104.10,131.10 110.60,129.50 115.00,128.60 118.50,128.30 123.70,129.30 127.50,130.10 130.30,131.20 133.75,131.90 136.80,132.80 140.00,133.30 143.40,133.80 147.50,134.00 160.00,134.00 231.00,133.60" fill="none" stroke="#f8cc5c" stroke-width="1.0" stroke-linejoin="round" stroke-linecap="round" opacity="1"/>
<polyline points="66.30,135.60 68.70,134.50 70.90,134.20 73.60,134.90 75.80,135.30 78.50,134.20 80.70,134.00 82.90,133.80 85.10,133.10 87.30,132.40 88.90,131.80 90.50,132.40 92.20,132.70 93.80,132.90 95.40,132.40 97.10,132.40 98.70,131.80 100.30,130.20 101.40,130.70 102.50,131.30 104.70,130.70 106.90,130.20 109.10,129.40 111.30,128.00 113.40,127.70 115.60,128.00 117.80,127.20 120.80,126.30 122.50,125.80 124.20,124.00 125.00,122.50 126.90,121.25 128.75,120.00 130.60,120.60 132.50,118.10 133.75,115.60 135.60,113.50 137.50,112.25 139.40,110.00 141.25,107.50 143.10,104.40 145.00,102.25 146.90,101.00 148.75,99.40 150.60,97.50 151.50,94.40 152.75,91.90 154.40,90.60 155.60,86.25 156.90,80.00 158.30,73.50 160.00,67.80 161.70,61.00 163.30,54.40 165.00,47.20 166.70,38.80 167.80,36.70 168.90,33.90 170.00,28.30 171.10,25.00 172.20,23.00 173.30,23.30 174.40,24.40 176.10,24.40 177.20,26.10 178.30,29.40 179.40,33.90 180.60,39.40 181.70,43.90 182.80,49.40 183.90,55.00 185.80,63.30 187.00,71.70 188.50,82.00 190.00,92.00 192.00,103.00 194.00,113.00 195.80,120.50 197.20,124.20 198.75,126.25 200.60,128.75 202.20,130.50 203.75,131.90 206.25,133.10 208.75,133.75 210.00,132.00 211.25,130.00 213.10,132.75 215.60,134.00 218.75,133.50 221.90,134.00 223.75,132.50 225.60,133.50 227.50,133.50 229.40,131.25 231.25,133.50" fill="none" stroke="#79a5e2" stroke-width="0.9" stroke-linejoin="round" stroke-linecap="round" opacity="1"/>
<text x="181.2" y="33.3" font-size="6.5" text-anchor="start" font-weight="normal" fill="#2a2a2a" stroke="#2a2a2a" stroke-width="0.2" textLength="9.4" lengthAdjust="spacingAndGlyphs">C1s</text>
<text x="162.6" y="106.6" font-size="6.8" text-anchor="start" font-weight="normal" fill="#2a2a2a" stroke="#2a2a2a" stroke-width="0.2" textLength="15.0" lengthAdjust="spacingAndGlyphs">C1s A</text>
<text x="94.9" y="120.7" font-size="6.6" text-anchor="start" font-weight="normal" fill="#2a2a2a" stroke="#2a2a2a" stroke-width="0.2" textLength="14.5" lengthAdjust="spacingAndGlyphs">C1s B</text>
<polyline points="340.25,118.50 341.90,120.60 342.50,125.60 343.75,119.40 345.00,121.25 346.25,120.00 347.25,124.00 348.50,113.10 349.40,115.60 350.60,111.90 351.50,114.40 352.75,109.40 353.75,106.25 354.60,113.75 355.60,110.60 356.60,115.60 358.10,107.50 359.40,110.60 361.90,106.90 363.10,103.75 364.00,106.90 365.00,102.50 365.80,90.80 366.70,90.00 367.90,85.80 369.00,82.50 369.80,83.75 370.40,85.00 371.25,81.70 372.50,73.30 373.75,68.30 374.60,63.00 375.60,54.40 377.20,48.30 378.30,51.70 380.60,41.70 381.10,42.80 382.20,39.40 383.30,48.30 385.00,45.00 386.70,42.20 388.30,32.80 389.40,38.90 391.30,22.20 392.20,26.10 393.90,37.20 395.00,48.30 395.80,64.70 397.60,73.75 398.60,75.10 400.00,86.90 401.40,95.30 402.50,89.70 404.60,84.20 405.60,85.60 407.40,84.40 408.75,89.70 410.10,85.60 411.50,95.30 412.90,87.60 414.70,88.30 416.40,96.00 417.80,87.60 419.40,89.70 421.70,96.70 423.30,82.80 424.70,89.70 426.80,77.90 427.80,85.60 431.00,80.70 433.00,68.20 435.10,72.40 437.50,80.00 440.00,71.00 441.40,75.10 443.20,65.20 444.70,66.70 447.20,54.20 449.20,65.00 450.30,65.80 451.70,75.00 453.30,85.00 454.70,71.70 456.20,68.30 457.20,78.30 458.70,71.70 460.00,75.00 461.30,72.50 462.50,81.70 463.70,74.20 465.00,80.00 466.70,75.00 468.70,68.30 470.30,64.70 472.00,68.30 473.70,73.30 475.30,70.00 477.00,67.50 479.20,65.80 480.70,60.80 482.00,66.70 483.70,67.50 485.00,60.80 485.80,63.30 487.50,56.70 490.00,69.30 491.40,61.10 492.80,59.70 494.90,50.00 496.25,61.80 497.60,51.40 499.00,52.80 500.00,54.20 501.10,59.70 502.50,54.90 503.90,54.20 505.00,46.50 506.00,50.70 507.40,53.50 508.00,52.80 509.40,38.20 510.60,47.90 511.50,45.80 512.50,47.00" fill="none" stroke="#555555" stroke-width="0.85" stroke-linejoin="round" stroke-linecap="round" opacity="1"/>
<polyline points="68.40,313.00 99.00,302.60 110.00,299.00 125.00,294.20 140.00,289.00 150.00,285.00 156.70,282.50 161.70,279.20 166.70,275.00 171.70,270.00 175.80,265.00 179.20,260.00 182.50,255.80 186.70,253.30 190.00,253.00 193.30,253.30 197.50,255.80 200.00,256.70 204.00,258.30 208.00,259.90 212.00,260.70 216.00,261.50 222.00,259.80 230.00,257.40" fill="none" stroke="#f4a272" stroke-width="0.9" stroke-linejoin="round" stroke-linecap="round" opacity="1"/>
<polyline points="68.40,313.20 69.40,312.86 70.40,312.51 71.40,312.17 72.40,311.82 73.40,311.48 74.40,311.14 75.40,310.79 76.40,310.45 77.40,310.10 78.40,309.76 79.40,309.42 80.40,309.07 81.40,308.73 82.40,308.38 83.40,308.04 84.40,307.69 85.40,307.35 86.40,307.01 87.40,306.66 88.40,306.32 89.40,305.97 90.40,305.63 91.40,305.28 92.40,304.94 93.40,304.59 94.40,304.25 95.40,303.90 96.40,303.55 97.40,303.21 98.40,302.86 99.40,302.51 100.40,302.15 101.40,301.80 102.40,301.44 103.40,301.08 104.40,300.71 105.40,300.34 106.40,299.97 107.40,299.58 108.40,299.19 109.40,298.78 110.40,298.36 111.40,297.93 112.40,297.47 113.40,297.00 114.40,296.50 115.40,295.96 116.40,295.40 117.40,294.79 118.40,294.14 119.40,293.44 120.40,292.68 121.40,291.86 122.40,290.97 123.40,289.99 124.40,288.93 125.40,287.78 126.40,286.52 127.40,285.16 128.40,283.68 129.40,282.07 130.40,280.34 131.40,278.47 132.40,276.46 133.40,274.31 134.40,272.02 135.40,269.59 136.40,267.03 137.40,264.33 138.40,261.52 139.40,258.58 140.40,255.55 141.40,252.44 142.40,249.26 143.40,246.03 144.40,242.77 145.40,239.52 146.40,236.30 147.40,233.12 148.40,230.03 149.40,227.05 150.40,224.21 151.40,221.53 152.40,219.05 153.40,216.78 154.40,214.76 155.40,213.00 156.40,211.52 157.40,210.34 158.40,209.46 159.40,208.90 160.40,208.72 161.40,209.09 162.40,209.99 163.40,211.39 164.40,213.26 165.40,215.54 166.40,218.19 167.40,221.14 168.40,224.32 169.40,227.68 170.40,231.14 171.40,234.64 172.40,238.13 173.40,241.54 174.40,244.84 175.40,247.98 176.40,250.93 177.40,253.66 178.40,256.17 179.40,258.43 180.40,260.44 181.40,262.22 182.40,263.75 183.40,265.06 184.40,266.15 185.40,267.05 186.40,267.77 187.40,268.33 188.40,268.74 189.40,269.03 190.40,269.20 191.40,269.29 192.40,269.29 193.40,269.22 194.40,269.10 195.40,268.93 196.40,268.72 197.40,268.49 198.40,268.23 199.40,267.95 200.40,267.65 201.40,267.34 202.40,267.02 203.40,266.70 204.40,266.37 205.40,266.04 206.40,265.70 207.40,265.36 208.40,265.02 209.40,264.68 210.40,264.34 211.40,264.00 212.40,263.65 213.40,263.31 214.40,262.97 215.40,262.62 216.40,262.28 217.40,261.93 218.40,261.59 219.40,261.25 220.40,260.90 221.40,260.56 222.40,260.21 223.40,259.87 224.40,259.53 225.40,259.18 226.40,258.84 227.40,258.49 228.40,258.15 229.40,257.81" fill="none" stroke="#bdbdbd" stroke-width="0.9" stroke-linejoin="round" stroke-linecap="round" opacity="1"/>
<polyline points="68.40,313.20 72.00,311.16 76.00,308.59 80.70,305.27 86.00,300.64 91.80,294.65 95.00,289.05 97.30,284.06 99.50,280.50 101.50,277.91 104.50,275.98 107.50,275.75 110.00,277.39 112.50,280.53 115.60,286.16 117.50,288.51 119.70,289.85 122.00,290.96 124.00,291.47 127.00,291.74 130.00,291.51 134.00,290.53 138.00,289.25 230.00,257.60" fill="none" stroke="#f8cc5c" stroke-width="1.2" stroke-linejoin="round" stroke-linecap="round" opacity="1"/>
<polyline points="68.20,311.90 70.70,314.20 72.60,316.10 74.60,310.30 76.50,311.90 78.50,305.40 80.40,305.40 82.40,306.40 84.30,307.80 86.30,308.40 88.20,302.50 90.20,297.70 92.10,291.80 94.00,288.90 96.00,285.00 97.90,286.00 99.90,278.20 101.80,272.40 103.80,271.40 105.70,276.30 107.70,275.30 109.60,278.20 111.60,280.50 112.80,279.90 114.20,283.30 115.60,287.50 117.60,290.30 119.70,291.40 121.80,290.30 123.90,286.80 125.30,282.60 126.70,281.30 128.10,283.30 129.40,281.30 130.80,279.20 132.20,277.10 132.90,272.20 134.30,268.10 136.40,266.00 138.50,263.20 139.90,260.40 141.30,256.90 142.60,252.80 143.30,247.50 146.30,235.90 149.20,227.10 151.10,222.20 153.10,213.50 154.60,211.50 155.60,207.60 157.00,203.80 158.30,205.70 159.90,209.60 161.80,208.60 163.80,209.60 165.10,205.70 166.70,210.60 168.60,218.30 171.00,224.20 173.50,228.10 175.40,233.90 176.40,236.80 177.40,234.90 179.30,239.70 180.50,241.50 182.80,238.20 185.60,240.30 187.60,245.10 189.70,248.60 191.10,252.10 192.50,247.90 193.90,252.80 196.00,255.60 197.40,256.30 198.75,254.90 200.10,254.20 202.20,257.00 204.30,259.70 205.70,257.60 207.10,259.00 209.20,261.10 210.60,264.60 211.90,262.50 214.00,259.70 215.40,256.30 216.80,254.20 218.20,257.60 219.60,260.40 221.00,258.30 222.40,259.70 224.40,258.30 227.20,258.30 229.30,257.60" fill="none" stroke="#79a5e2" stroke-width="0.9" stroke-linejoin="round" stroke-linecap="round" opacity="1"/>
<text x="132.0" y="211.6" font-size="6.6" text-anchor="start" font-weight="normal" fill="#2a2a2a" stroke="#2a2a2a" stroke-width="0.2" textLength="15.3" lengthAdjust="spacingAndGlyphs">N1s A</text>
<text x="200.6" y="247.8" font-size="6.6" text-anchor="start" font-weight="normal" fill="#2a2a2a" stroke="#2a2a2a" stroke-width="0.2" textLength="10.0" lengthAdjust="spacingAndGlyphs">N1s</text>
<text x="81.0" y="271.0" font-size="6.6" text-anchor="start" font-weight="normal" fill="#2a2a2a" stroke="#2a2a2a" stroke-width="0.2" textLength="15.0" lengthAdjust="spacingAndGlyphs">N1s B</text>
<polyline points="339.60,261.90 341.50,264.80 343.20,267.80 344.30,267.30 345.30,270.50 346.50,270.00 347.80,273.80 348.90,273.30 350.10,276.30 351.40,276.00 352.70,278.70 353.80,277.90 355.00,281.20 356.30,280.40 357.60,283.60 359.20,280.40 360.90,284.50 362.00,285.30 363.20,287.70 364.50,287.40 366.10,289.40 367.70,289.00 369.70,290.70 371.30,291.80 373.00,289.00 375.10,293.00 376.70,294.00 378.40,291.30 380.50,294.30 382.50,294.60 384.10,295.10 386.10,295.10 387.70,293.00 389.00,296.70 390.60,298.40 392.00,296.70 393.10,294.60 394.70,295.90 395.90,294.30 397.20,300.50 398.80,295.90 400.50,294.30 402.10,291.80 403.70,294.30 405.40,292.30 407.00,286.10 408.70,284.80 410.00,282.80 411.10,283.20 412.30,280.40 413.60,277.90 414.90,277.60 416.00,275.50 417.70,272.20 418.80,268.90 420.10,265.60 421.70,260.20 423.60,253.40 425.60,241.70 427.50,232.00 429.50,222.20 431.00,212.50 432.40,208.60 434.30,206.30 436.30,208.60 438.20,213.50 439.20,222.20 440.20,233.90 441.10,245.60 442.70,257.30 443.50,265.00 444.00,275.40 445.20,282.60 446.90,289.90 448.40,295.70 448.80,298.60 450.50,300.90 452.30,307.50 453.70,304.50 455.20,306.70 457.40,305.30 458.80,306.00 461.00,308.20 463.20,310.40 465.40,309.60 467.50,308.20 469.70,311.10 471.20,308.20 472.60,310.40 474.80,308.20 476.30,310.40 478.20,308.20 479.90,310.40 482.10,308.90 484.30,308.90 486.50,308.20 488.30,306.70 490.10,311.80 491.50,308.20 493.70,310.40 495.90,308.90 498.10,312.50 499.50,308.90 501.00,311.10 503.20,309.60 505.40,308.90 508.30,306.70 510.20,311.10" fill="none" stroke="#555555" stroke-width="0.85" stroke-linejoin="round" stroke-linecap="round" opacity="1"/>
</g>
</svg>
</body></html>
